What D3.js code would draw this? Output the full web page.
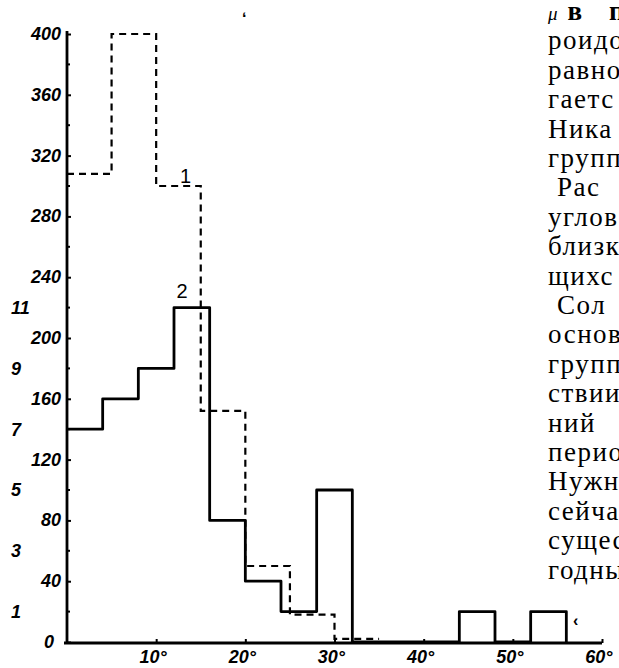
<!DOCTYPE html>
<html>
<head>
<meta charset="utf-8">
<script src="https://cdn.jsdelivr.net/npm/d3@7"></script>
<style>
  body { margin: 0; background: #fff; }
  text { fill: #000; }
</style>
</head>
<body>
<div id="chart"></div>
<script>
const width = 619;
const height = 668;

// histogram 1 (dashed) : 5 degree bins, left axis units
const dashedEdges = [0, 5, 10, 15, 20, 25, 30, 35];
const dashedValues = [308, 400, 300, 152, 50, 18, 2];

// histogram 2 (solid) : 4 degree bins, inner axis units
const solidEdges = [0, 4, 8, 12, 16, 20, 24, 28, 32, 44, 48, 52, 56];
const solidValues = [7, 8, 9, 11, 4, 2, 1, 5, 0, 1, 0, 1, 0];

const yTicks = [0, 40, 80, 120, 160, 200, 240, 280, 320, 360, 400];
const yMinorTicks = [20, 60, 100, 140, 180, 220, 260, 300, 340, 380];
const y2Ticks = [1, 3, 5, 7, 9, 11];
const xTicks = [10, 20, 30, 40, 50, 60];

// column of book text cut off at the right edge
const sideText = [
  "роидо", "равно", "гаетс", "Ника", "групп", "Рас", "углов", "близк", "щихс",
  "Сол", "основ", "групп", "ствии", "ний", "перио", "Нужн", "сейча", "сущес", "годны"
];
const indented = ["Рас", "Сол"];

const svg = d3.select("#chart")
  .append("svg")
    .attr("width", width)
    .attr("height", height);

const x = d3.scaleLinear().domain([0, 60]).range([67, 602]);
const y = d3.scaleLinear().domain([0, 400]).range([642, 34]);
const y2 = d3.scaleLinear().domain([0, 20]).range([642, 34]); // 1 unit = 20 on the left scale

const labelFont = "'Liberation Sans', Arial, sans-serif";

// left axis
const yAxis = svg.append("g")
  .attr("transform", `translate(${x(0)},0)`)
  .call(d3.axisLeft(y).tickValues(yTicks).tickSizeInner(-4).tickSizeOuter(0).tickPadding(6));
yAxis.select(".domain").attr("stroke", "#000").attr("stroke-width", 2.8)
  .attr("d", `M0,${y(0) + 2}V${y(400) - 3}`);
yAxis.selectAll(".tick line").attr("stroke", "#000").attr("stroke-width", 2);
yAxis.selectAll(".tick text")
  .attr("font-family", labelFont)
  .attr("font-size", 18)
  .attr("font-style", "italic")
  .attr("font-weight", "bold")
  .attr("fill", "#000")
  .attr("dy", "0.3em")
  .attr("dx", d => d === 0 ? -7 : 0);

yAxis.selectAll(".minor")
  .data(yMinorTicks)
  .enter()
  .append("line")
  .attr("class", "minor")
  .attr("x1", 0).attr("x2", 3)
  .attr("y1", d => y(d)).attr("y2", d => y(d))
  .attr("stroke", "#000").attr("stroke-width", 2);

// inner (second) scale labels
svg.append("g")
  .selectAll("text")
  .data(y2Ticks)
  .enter()
  .append("text")
  .attr("x", 11)
  .attr("y", d => y2(d))
  .attr("dy", "0.35em")
  .attr("font-family", labelFont)
  .attr("font-size", 18)
  .attr("font-style", "italic")
  .attr("font-weight", "bold")
  .text(d => d);

// bottom axis
const xAxis = svg.append("g")
  .attr("transform", `translate(0,${y(0) + 1})`)
  .call(d3.axisBottom(x).tickValues(xTicks).tickFormat(d => d + "°")
    .tickSizeInner(-4).tickSizeOuter(0).tickPadding(7));
xAxis.select(".domain").attr("stroke", "#000").attr("stroke-width", 2.8)
  .attr("d", `M${x(0) - 3},0H${x(60)}`);
xAxis.selectAll(".tick line").attr("stroke", "#000").attr("stroke-width", 2);
xAxis.selectAll(".tick text")
  .attr("font-family", labelFont)
  .attr("font-size", 18)
  .attr("font-style", "italic")
  .attr("font-weight", "bold")
  .attr("fill", "#000")
  .attr("dx", "-0.2em");

// step outlines
const dashedPoints = dashedEdges.map((e, i) => [e, i < dashedValues.length ? dashedValues[i] : dashedValues[dashedValues.length - 1]]);
const solidPoints = solidEdges.map((e, i) => [e, solidValues[i]]);

const stepLine = scaleY => d3.line()
  .x(d => x(d[0]))
  .y(d => scaleY(d[1]))
  .curve(d3.curveStepAfter);

svg.append("path")
  .datum(dashedPoints)
  .attr("d", stepLine(y))
  .attr("fill", "none")
  .attr("stroke", "#000")
  .attr("stroke-width", 2.2)
  .attr("stroke-dasharray", "7,5");

svg.append("path")
  .datum(solidPoints)
  .attr("d", stepLine(y2))
  .attr("fill", "none")
  .attr("stroke", "#000")
  .attr("stroke-width", 2.8)
  .attr("stroke-linejoin", "round");

// curve numbers
svg.append("text")
  .attr("x", x(13.3)).attr("y", y(302))
  .attr("font-family", labelFont).attr("font-size", 20)
  .attr("text-anchor", "middle")
  .text("1");
svg.append("text")
  .attr("x", x(12.9)).attr("y", y2(11.3))
  .attr("font-family", labelFont).attr("font-size", 20)
  .attr("text-anchor", "middle")
  .text("2");

// stray print marks
svg.append("text").attr("x", 242).attr("y", 24)
  .attr("font-family", labelFont).attr("font-size", 16).attr("font-weight", "bold").text("ʻ");
svg.append("text").attr("x", 573).attr("y", 626)
  .attr("font-family", labelFont).attr("font-size", 16).attr("font-weight", "bold").text("‹");

// book text at right
const textFont = "'Liberation Serif', 'DejaVu Serif', serif";
const lineStep = 29.4;
const firstLine = svg.append("text")
  .attr("x", 548).attr("y", 20)
  .attr("font-family", textFont).attr("font-size", 27);
firstLine.append("tspan").attr("font-style", "italic").attr("font-size", 19).text("μ");
firstLine.append("tspan").attr("font-weight", "bold").attr("dx", 10).attr("letter-spacing", 10).text("в п");

svg.append("g")
  .selectAll("text")
  .data(sideText)
  .enter()
  .append("text")
  .attr("x", d => indented.includes(d) ? 557 : 548)
  .attr("y", (d, i) => 20 + lineStep * (i + 1))
  .attr("font-family", textFont)
  .attr("font-size", 27)
  .attr("letter-spacing", 1.5)
  .text(d => d);
</script>
</body>
</html>
